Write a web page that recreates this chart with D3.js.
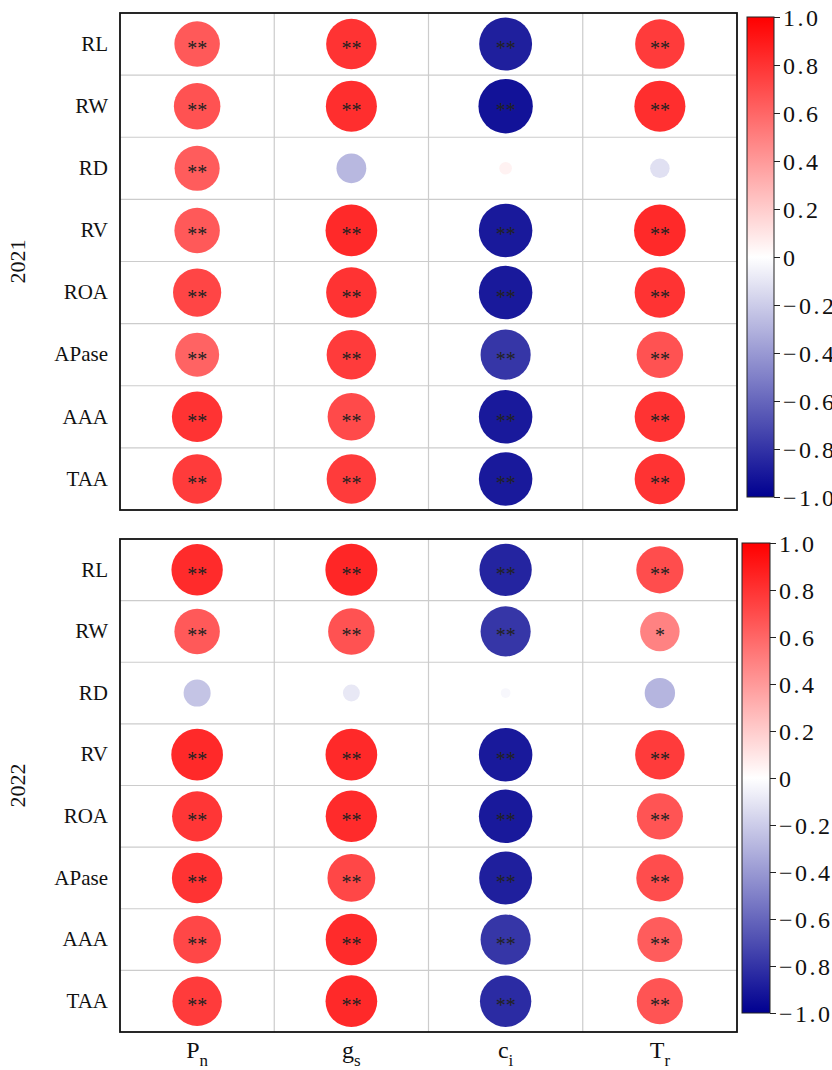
<!DOCTYPE html>
<html>
<head>
<meta charset="utf-8">
<script src="https://cdn.jsdelivr.net/npm/d3@7"></script>
<style>
  html, body { margin: 0; padding: 0; background: #fff; }
  svg { display: block; font-family: "Liberation Serif", "DejaVu Serif", serif; }
  svg text { font-family: "Liberation Serif", "DejaVu Serif", serif; }
</style>
</head>
<body>
<svg id="chart" width="832" height="1070"></svg>
<script>
// ---------- data ----------
const rowNames = ["RL", "RW", "RD", "RV", "ROA", "APase", "AAA", "TAA"];
const colKeys = ["Pn", "gs", "ci", "Tr"];
const colBase = ["P", "g", "c", "T"];
const colSub = ["n", "s", "i", "r"];
const years = ["2021", "2022"];
const cbTicks = [1.0, 0.8, 0.6, 0.4, 0.2, 0, -0.2, -0.4, -0.6, -0.8, -1.0];

// correlation values, one row per indicator, columns Pn, gs, ci, Tr
const values2021 = [
  [0.65, 0.80, -0.88, 0.77],
  [0.68, 0.82, -0.93, 0.82],
  [0.64, -0.28, 0.05, -0.12],
  [0.65, 0.84, -0.90, 0.84],
  [0.73, 0.80, -0.90, 0.80],
  [0.61, 0.77, -0.79, 0.68],
  [0.80, 0.71, -0.90, 0.80],
  [0.77, 0.77, -0.90, 0.80]
];
const sig2021 = [
  ["**", "**", "**", "**"],
  ["**", "**", "**", "**"],
  ["**", "", "", ""],
  ["**", "**", "**", "**"],
  ["**", "**", "**", "**"],
  ["**", "**", "**", "**"],
  ["**", "**", "**", "**"],
  ["**", "**", "**", "**"]
];
const values2022 = [
  [0.83, 0.85, -0.86, 0.70],
  [0.65, 0.68, -0.79, 0.49],
  [-0.23, -0.09, -0.03, -0.29],
  [0.84, 0.84, -0.90, 0.77],
  [0.79, 0.83, -0.90, 0.67],
  [0.80, 0.72, -0.88, 0.70],
  [0.72, 0.83, -0.79, 0.64],
  [0.77, 0.84, -0.83, 0.67]
];
const sig2022 = [
  ["**", "**", "**", "**"],
  ["**", "**", "**", "*"],
  ["", "", "", ""],
  ["**", "**", "**", "**"],
  ["**", "**", "**", "**"],
  ["**", "**", "**", "**"],
  ["**", "**", "**", "**"],
  ["**", "**", "**", "**"]
];

// ---------- layout ----------
const svg = d3.select("#chart");
const panels = [
  { year: years[0], values: values2021, sig: sig2021, top: 13, bottom: 510, cbX: 747, cbW: 27, cbTop: 17, cbBottom: 497 },
  { year: years[1], values: values2022, sig: sig2022, top: 539, bottom: 1032, cbX: 742, cbW: 28, cbTop: 543, cbBottom: 1013 }
];
const left = 120, right = 737;
const FONT = "Liberation Serif";

const color = d3.scaleLinear().domain([-1, 0, 1]).range(["#000090", "#ffffff", "#ff0000"]);
const radius = d3.scaleSqrt().domain([0, 1]).range([0, 28.2]);
const x = d3.scaleBand().domain(colKeys).range([left, right]).padding(0);

// gradient
const defs = svg.append("defs");
const grad = defs.append("linearGradient").attr("id", "cbgrad")
  .attr("x1", 0).attr("y1", 1).attr("x2", 0).attr("y2", 0);
d3.range(0, 1.0001, 0.05).forEach(t => {
  grad.append("stop").attr("offset", t).attr("stop-color", color(-1 + 2 * t));
});

panels.forEach((p, pi) => {
  const y = d3.scaleBand().domain(rowNames).range([p.top, p.bottom]).padding(0);
  const g = svg.append("g");

  // grid
  g.append("g").selectAll("line.h").data(rowNames.slice(1)).join("line")
    .attr("x1", left).attr("x2", right)
    .attr("y1", d => y(d)).attr("y2", d => y(d))
    .attr("stroke", "#cccccc").attr("stroke-width", 1.2);
  g.append("g").selectAll("line.v").data(colKeys.slice(1)).join("line")
    .attr("y1", p.top).attr("y2", p.bottom)
    .attr("x1", d => x(d)).attr("x2", d => x(d))
    .attr("stroke", "#cccccc").attr("stroke-width", 1.2);

  // cells
  const cells = [];
  rowNames.forEach((r, ri) => colKeys.forEach((c, ci) => {
    cells.push({ r, c, v: p.values[ri][ci], s: p.sig[ri][ci] });
  }));
  g.append("g").selectAll("circle").data(cells).join("circle")
    .attr("cx", d => x(d.c) + x.bandwidth() / 2)
    .attr("cy", d => y(d.r) + y.bandwidth() / 2)
    .attr("r", d => radius(Math.abs(d.v)))
    .attr("fill", d => color(d.v));
  g.append("g").selectAll("text").data(cells.filter(d => d.s)).join("text")
    .attr("x", d => x(d.c) + x.bandwidth() / 2)
    .attr("y", d => y(d.r) + y.bandwidth() / 2 + 11)
    .attr("text-anchor", "middle")
    .attr("font-family", FONT)
    .attr("font-size", 20)
    .attr("fill", "#222")
    .text(d => d.s);

  // frame
  g.append("rect").attr("x", left).attr("y", p.top)
    .attr("width", right - left).attr("height", p.bottom - p.top)
    .attr("fill", "none").attr("stroke", "#111").attr("stroke-width", 1.8);

  // row labels
  const yAxis = d3.axisLeft(y).tickSize(0).tickPadding(12);
  const ya = g.append("g").attr("transform", `translate(${left},0)`).call(yAxis)
    .attr("font-family", FONT);
  ya.select(".domain").remove();
  ya.selectAll("text").attr("font-size", 21).attr("fill", "#111");

  // year label
  g.append("text")
    .attr("transform", `translate(${25},${(p.top + p.bottom) / 2}) rotate(-90)`)
    .attr("text-anchor", "middle")
    .attr("font-family", FONT)
    .attr("font-size", 22).attr("fill", "#111")
    .text(p.year);

  // colorbar
  g.append("rect").attr("x", p.cbX).attr("y", p.cbTop)
    .attr("width", p.cbW).attr("height", p.cbBottom - p.cbTop)
    .attr("fill", "url(#cbgrad)").attr("stroke", "#222").attr("stroke-width", 1);
  const cbScale = d3.scaleLinear().domain([-1, 1]).range([p.cbBottom, p.cbTop]);
  const cbAxis = d3.axisRight(cbScale).tickValues(cbTicks).tickSize(6).tickPadding(3)
    .tickFormat(v => v === 0 ? "0" : d3.format(".1f")(v));
  const ca = g.append("g").attr("transform", `translate(${p.cbX + p.cbW},0)`).call(cbAxis)
    .attr("font-family", FONT);
  ca.select(".domain").remove();
  ca.selectAll("line").attr("stroke", "#222");
  ca.selectAll("text").attr("font-size", 24).attr("letter-spacing", 2.5)
    .attr("fill", "#111").attr("dy", "0.36em");
});

// x labels
const xl = svg.append("g").selectAll("text").data(colKeys).join("text")
  .attr("x", d => x(d) + x.bandwidth() / 2)
  .attr("y", 1058)
  .attr("text-anchor", "middle")
  .attr("font-family", FONT)
  .attr("font-size", 24).attr("fill", "#111");
xl.append("tspan").text((d, i) => colBase[i]);
xl.append("tspan").attr("font-size", 17).attr("dy", 8).text((d, i) => colSub[i]);
</script>
</body>
</html>
